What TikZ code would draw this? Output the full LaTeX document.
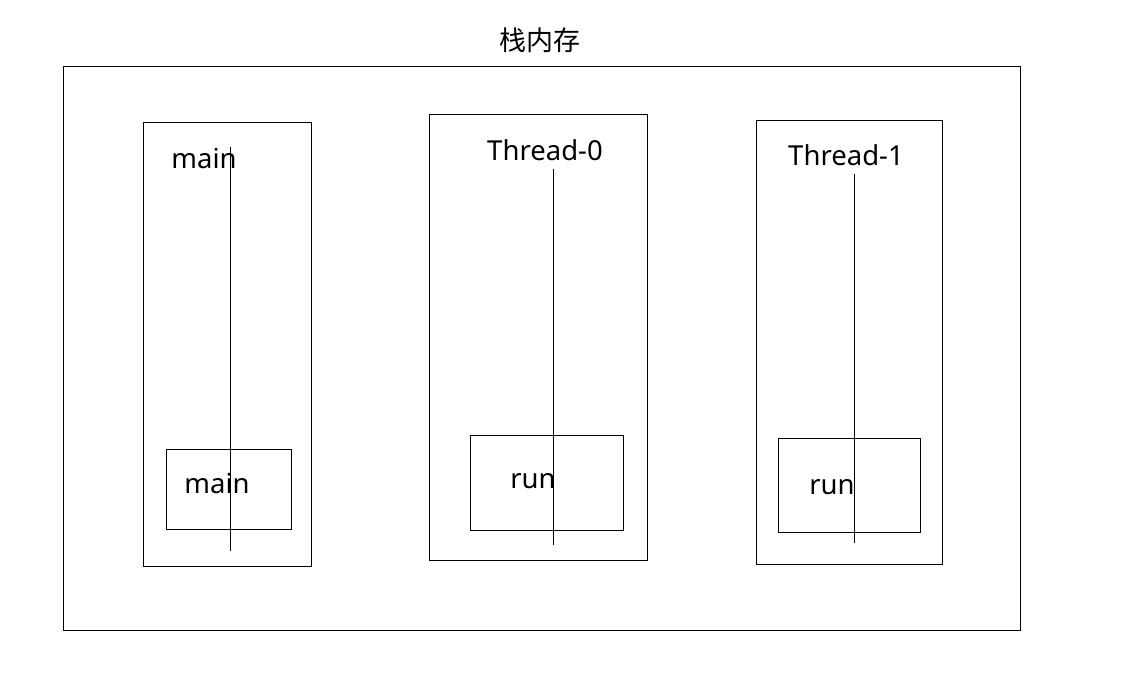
\documentclass[tikz,border=0pt]{standalone}
\usepackage{fontspec}
\setmainfont{Noto Sans}
\newfontfamily\cjk{Noto Sans CJK SC}
\begin{document}
\begin{tikzpicture}[x=1pt,y=-1pt,
  box/.style={draw=black,line width=1pt},
  lbl/.style={inner sep=0pt,font=\fontsize{27.5}{32}\selectfont},
  vline/.style={draw=black,line width=1pt}]
\useasboundingbox (0,0) rectangle (1133,677);
% outer
\draw[box] (63,67) rectangle (1020,630);
\node[lbl,font=\cjk\fontsize{27}{32}\selectfont] (title) at (540,40) {栈内存};
% main stack
\draw[box] (143,122) rectangle (311,566);
\draw[box] (166,449) rectangle (291,529);
\node[lbl] (mainlbl) at (204,159) {main};
\node[lbl] (mainrun) at (217,483) {main};
\coordinate (m1) at (230,147);
\coordinate (m2) at (230,551);
\draw[vline] (m1) -- (m2);
% Thread-0
\draw[box] (429,114) rectangle (647,560);
\draw[box] (470,435) rectangle (623,530);
\node[lbl] (t0lbl) at (545,150) {Thread-0};
\node[lbl] (t0run) at (533,481) {run};
\coordinate (a1) at (553,169);
\coordinate (a2) at (553,545);
\draw[vline] (a1) -- (a2);
% Thread-1
\draw[box] (756,120) rectangle (942,564);
\draw[box] (778,438) rectangle (920,532);
\node[lbl] (t1lbl) at (846,155) {Thread-1};
\node[lbl] (t1run) at (832,487) {run};
\coordinate (b1) at (854,174);
\coordinate (b2) at (854,543);
\draw[vline] (b1) -- (b2);
\end{tikzpicture}
\end{document}
